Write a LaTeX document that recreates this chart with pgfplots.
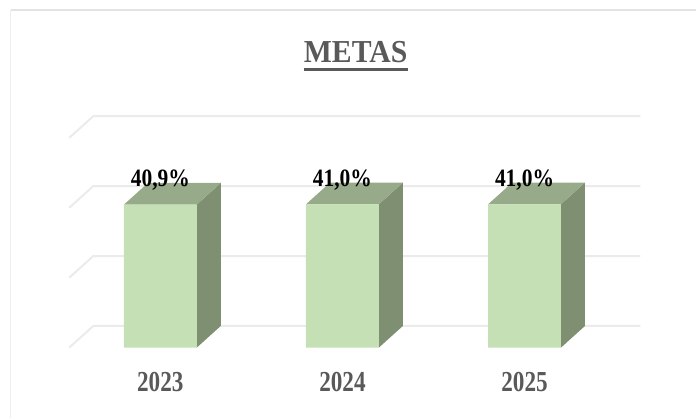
\documentclass[border=0pt]{standalone}
\usepackage{fontspec}
\setmainfont{Liberation Serif}
\usepackage{pgfplots}
\pgfplotsset{compat=1.18}
\definecolor{barFront}{HTML}{C5E0B4}
\definecolor{barTop}{HTML}{97AB8A}
\definecolor{barSide}{HTML}{7F8F72}
\definecolor{gridGray}{HTML}{EBEBEB}
\definecolor{textGray}{HTML}{595959}
\definecolor{frameGray}{HTML}{E3E3E3}

\begin{document}
\begin{tikzpicture}
\begin{axis}[
  at={(0,0)}, anchor=south west,
  width=697pt, height=418pt, scale only axis,
  xmin=-0.8804, xmax=2.9430, ymin=-20, ymax=99.43,
  axis line style={draw=none},
  major tick length=0pt,
  ytick=\empty,
  xtick={0,1,2},
  xticklabels={\scalebox{0.8}[1]{2023},\scalebox{0.8}[1]{2024},\scalebox{0.8}[1]{2025}},
  xtick pos=bottom,
  xticklabel style={anchor=base, yshift=26pt, inner sep=0pt,
    font=\fontsize{29}{30}\selectfont\bfseries, text=textGray},
  clip=false,
]
  % back wall gridlines (0, 20, 40, 60) with the slanted side-wall part
  \addplot[gridGray, line width=2pt] coordinates {(-0.5,0) (-0.368,6.2) (2.636,6.2)};
  \addplot[gridGray, line width=2pt] coordinates {(-0.5,20) (-0.368,26.2) (2.636,26.2)};
  \addplot[gridGray, line width=2pt] coordinates {(-0.5,40) (-0.368,46.2) (2.636,46.2)};
  \addplot[gridGray, line width=2pt] coordinates {(-0.5,60) (-0.368,66.2) (2.636,66.2)};

  % depth faces of the bars (top and right side)
  \addplot[fill=barSide, draw=none] coordinates {(0.2,0) (0.332,6.2) (0.332,47.1) (0.2,40.9)};
  \addplot[fill=barTop, draw=none] coordinates {(-0.2,40.9) (0.2,40.9) (0.332,47.1) (-0.068,47.1)};
  \addplot[fill=barSide, draw=none] coordinates {(1.2,0) (1.332,6.2) (1.332,47.2) (1.2,41.0)};
  \addplot[fill=barTop, draw=none] coordinates {(0.8,41.0) (1.2,41.0) (1.332,47.2) (0.932,47.2)};
  \addplot[fill=barSide, draw=none] coordinates {(2.2,0) (2.332,6.2) (2.332,47.2) (2.2,41.0)};
  \addplot[fill=barTop, draw=none] coordinates {(1.8,41.0) (2.2,41.0) (2.332,47.2) (1.932,47.2)};

  % front faces with the values
  \addplot[ybar, bar width=73pt, fill=barFront, draw=none,
    point meta=explicit symbolic,
    nodes near coords={\scalebox{0.86}[1]{\pgfplotspointmeta}},
    nodes near coords style={anchor=base, yshift=17.7pt, inner sep=0pt,
      font=\fontsize{25}{26}\selectfont\bfseries, text=black}]
    coordinates {(0,40.9) [40,9\%] (1,41.0) [41,0\%] (2,41.0) [41,0\%]};

  \node[anchor=base, inner sep=0pt, text=textGray,
    font=\fontsize{32}{34}\selectfont\bfseries] (title)
    at (rel axis cs:0.5108,0.8493) {\scalebox{0.93}[1]{METAS}};
  \draw[textGray, line width=3pt] ([yshift=-6.5pt]title.base west) -- ([yshift=-6.5pt]title.base east);

  \draw[frameGray, line width=1.5pt] (rel axis cs:0.0158,0.976) -- (rel axis cs:1,0.976);
  \draw[frameGray!60, line width=1pt] (rel axis cs:0.0158,0.976) -- (rel axis cs:0.0158,0);
\end{axis}
\end{tikzpicture}
\end{document}
